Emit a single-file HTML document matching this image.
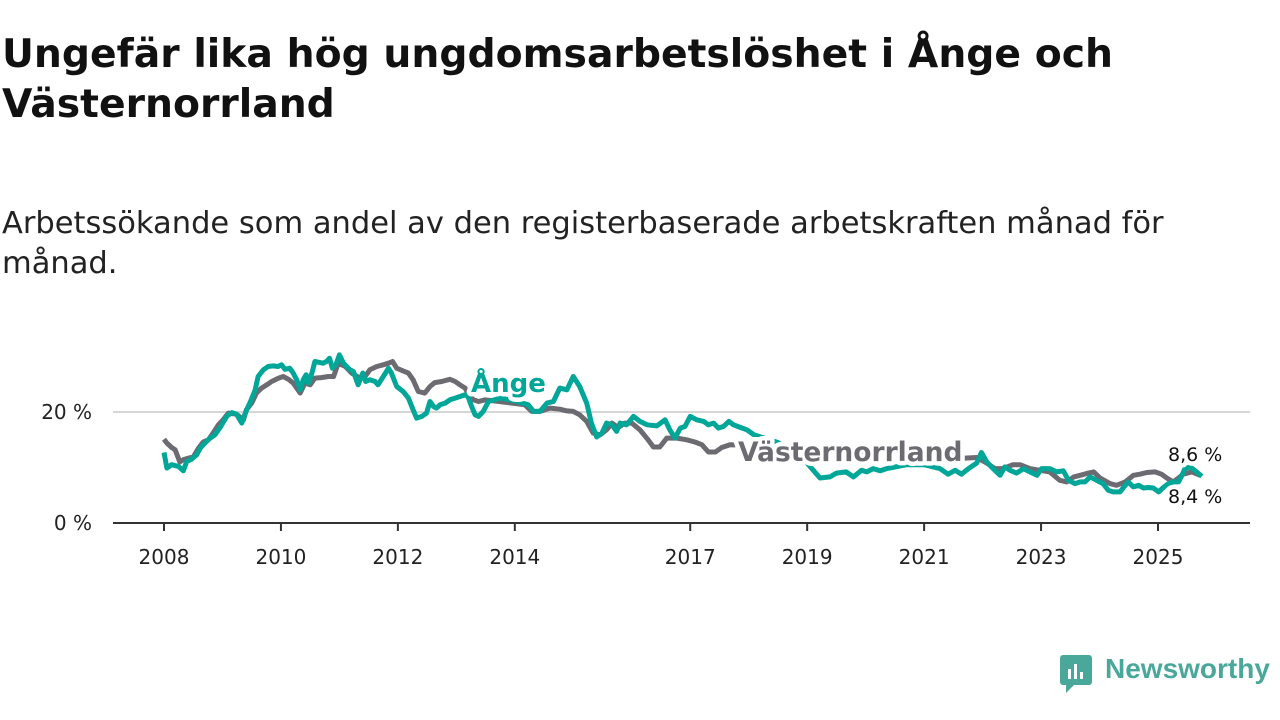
<!DOCTYPE html>
<html><head><meta charset="utf-8"><style>
body{margin:0;background:#fff;font-family:"DejaVu Sans","Liberation Sans",sans-serif;}
#wrap{position:relative;width:1280px;height:720px;overflow:hidden;}
h1{position:absolute;left:2px;top:30px;margin:0;font-size:39.3px;line-height:50px;font-weight:bold;color:#111;width:1200px;font-family:"DejaVu Sans","Liberation Sans",sans-serif;}
.sub{position:absolute;left:2px;top:204px;margin:0;font-size:30.5px;line-height:40px;color:#222;width:1220px;font-family:"DejaVu Sans","Liberation Sans",sans-serif;}
</style></head><body>
<div id="wrap">
<h1>Ungefär lika hög ungdomsarbetslöshet i Ånge och Västernorrland</h1>
<p class="sub">Arbetssökande som andel av den registerbaserade arbetskraften månad för månad.</p>
<svg id="chart" width="1280" height="720" style="position:absolute;left:0;top:0"></svg>
<div style="position:absolute;left:1060px;top:655px;">
<svg width="34" height="38"><rect x="0" y="0" width="32" height="30" rx="3" fill="#4aa89a"/><polygon points="6,30 14,30 6,38" fill="#4aa89a"/><rect x="8" y="14" width="3" height="10" fill="#fff"/><rect x="14" y="9" width="3" height="15" fill="#fff"/><rect x="20" y="17" width="3" height="7" fill="#fff"/></svg>
<span style="position:absolute;left:45px;top:-2px;font-size:28px;font-weight:bold;color:#4aa89a;font-family:'Liberation Sans',sans-serif;">Newsworthy</span>
</div>
</div>
<script>
const angeYears=[2008.0,2008.05,2008.13,2008.25,2008.33,2008.39,2008.47,2008.56,2008.62,2008.70,2008.79,2008.87,2008.96,2009.01,2009.08,2009.16,2009.24,2009.33,2009.39,2009.44,2009.48,2009.56,2009.61,2009.70,2009.78,2009.87,2009.95,2010.01,2010.07,2010.15,2010.21,2010.27,2010.33,2010.38,2010.43,2010.47,2010.53,2010.58,2010.67,2010.72,2010.78,2010.83,2010.88,2010.94,2011.00,2011.07,2011.18,2011.24,2011.32,2011.40,2011.45,2011.52,2011.61,2011.66,2011.75,2011.84,2011.89,2011.98,2012.09,2012.18,2012.26,2012.32,2012.41,2012.49,2012.55,2012.61,2012.66,2012.72,2012.81,2012.89,2012.98,2013.06,2013.15,2013.20,2013.26,2013.32,2013.38,2013.46,2013.55,2013.75,2014.0,2014.23,2014.32,2014.43,2014.55,2014.66,2014.77,2014.89,2015.00,2015.11,2015.23,2015.31,2015.40,2015.49,2015.57,2015.66,2015.74,2015.80,2015.91,2016.03,2016.14,2016.26,2016.43,2016.57,2016.65,2016.74,2016.83,2016.91,2017.00,2017.11,2017.23,2017.31,2017.40,2017.48,2017.57,2017.66,2017.74,2017.86,2017.97,2018.09,2018.5,2018.9,2019.22,2019.39,2019.50,2019.67,2019.79,2019.93,2020.02,2020.13,2020.25,2020.36,2020.7,2021.0,2021.27,2021.41,2021.53,2021.64,2021.76,2021.90,2021.98,2022.07,2022.18,2022.30,2022.38,2022.47,2022.58,2022.70,2022.81,2022.93,2023.01,2023.15,2023.27,2023.38,2023.47,2023.58,2023.67,2023.75,2023.84,2023.95,2024.06,2024.15,2024.23,2024.35,2024.44,2024.49,2024.58,2024.67,2024.75,2024.84,2024.92,2025.01,2025.09,2025.18,2025.26,2025.35,2025.41,2025.46,2025.55,2025.66,2025.75];
const angeValues=[12.7,9.9,10.5,10.2,9.4,11.1,11.5,12.3,13.5,14.4,15.3,15.9,17.2,18.1,19.3,19.9,19.6,18.0,19.8,21.0,21.9,24.0,26.4,27.6,28.2,28.3,28.2,28.5,27.7,27.9,27.0,25.8,24.0,25.8,26.7,25.2,27.0,29.1,28.9,28.8,29.1,29.7,27.9,28.5,30.3,28.8,27.6,27.3,24.9,27.0,25.5,25.8,25.5,24.9,26.4,27.9,27.0,24.6,23.7,22.5,20.4,18.9,19.2,19.8,21.9,21.0,20.7,21.3,21.6,22.2,22.5,22.8,23.1,22.8,21.0,19.5,19.2,20.1,21.9,22.5,22.0,21.3,20.1,20.1,21.6,21.9,24.3,24.0,26.4,24.6,21.6,18.0,15.5,16.2,18.0,17.7,16.5,18.0,17.7,19.2,18.3,17.7,17.5,18.6,16.8,15.3,17.1,17.4,19.2,18.6,18.3,17.7,18.0,17.1,17.4,18.3,17.7,17.2,16.8,15.9,14.5,12.0,8.1,8.3,9.0,9.2,8.3,9.5,9.2,9.8,9.4,9.8,10.5,10.5,9.8,8.8,9.5,8.8,9.8,10.8,12.7,11.0,9.8,8.6,10.1,9.5,9.0,9.8,9.2,8.6,9.8,9.8,9.2,9.4,7.7,7.1,7.4,7.4,8.3,7.7,7.1,5.9,5.6,5.6,6.8,7.4,6.5,6.8,6.3,6.4,6.3,5.6,6.4,7.1,7.4,7.4,8.6,9.8,10.1,9.2,8.4];
const vnYears=[2008.0,2008.05,2008.13,2008.19,2008.27,2008.33,2008.42,2008.50,2008.59,2008.67,2008.76,2008.84,2008.93,2009.01,2009.10,2009.24,2009.36,2009.41,2009.50,2009.58,2009.67,2009.76,2009.84,2009.96,2010.04,2010.13,2010.21,2010.27,2010.33,2010.41,2010.50,2010.58,2010.69,2010.81,2010.90,2010.98,2011.10,2011.21,2011.35,2011.44,2011.52,2011.64,2011.75,2011.84,2011.91,2011.98,2012.09,2012.18,2012.26,2012.35,2012.46,2012.55,2012.63,2012.75,2012.89,2012.98,2013.06,2013.15,2013.20,2013.29,2013.38,2013.49,2013.8,2014.17,2014.29,2014.43,2014.60,2014.77,2014.89,2015.00,2015.11,2015.23,2015.34,2015.46,2015.57,2015.66,2015.77,2015.88,2016.00,2016.14,2016.28,2016.37,2016.48,2016.60,2016.77,2016.94,2017.08,2017.20,2017.31,2017.43,2017.54,2017.68,2018.2,2018.7,2019.3,2020.0,2020.6,2021.2,2021.70,2021.90,2022.07,2022.21,2022.35,2022.52,2022.64,2022.81,2022.98,2023.15,2023.32,2023.44,2023.56,2023.67,2023.81,2023.90,2024.01,2024.18,2024.29,2024.44,2024.58,2024.69,2024.81,2024.95,2025.06,2025.15,2025.26,2025.35,2025.43,2025.58,2025.72];
const vnValues=[15.1,14.4,13.6,13.2,11.0,11.4,11.7,11.9,13.5,14.6,15.0,16.2,17.7,18.6,19.8,19.6,18.6,20.4,21.6,23.4,24.3,24.9,25.5,26.1,26.4,25.9,25.2,24.3,23.4,25.2,24.9,26.1,26.2,26.4,26.4,28.8,28.2,27.0,26.1,26.4,27.6,28.2,28.5,28.8,29.1,27.9,27.4,27.0,25.8,23.7,23.4,24.6,25.3,25.5,25.9,25.5,24.9,24.3,23.4,22.2,21.9,22.2,21.8,21.3,20.1,20.1,20.7,20.5,20.2,20.1,19.5,18.3,16.2,15.9,16.8,18.0,17.2,18.0,18.0,16.8,15.0,13.7,13.7,15.3,15.3,15.0,14.6,14.1,12.8,12.8,13.6,14.1,14.0,13.0,12.5,12.5,12.5,12.5,11.7,11.8,10.8,9.8,9.8,10.5,10.5,9.8,9.5,9.2,7.7,7.4,8.3,8.6,9.0,9.2,8.1,7.1,6.8,7.4,8.6,8.8,9.1,9.2,8.8,8.1,7.4,8.1,8.8,9.2,8.6];
const xTicks=[2008,2010,2012,2014,2017,2019,2021,2023,2025];
const yTicks=[0,20];
const yTickLabels=["0 %","20 %"];

const NS="http://www.w3.org/2000/svg";
const svg=document.getElementById('chart');
const x=y=>164+(y-2008)*58.47;
const yS=v=>523-v*5.55;
const FF='DejaVu Sans, Liberation Sans, sans-serif';
function mk(t,a){const e=document.createElementNS(NS,t);for(const k in a)e.setAttribute(k,a[k]);svg.appendChild(e);return e;}
yTicks.forEach((t,i)=>{
  if(t>0){const g=mk('line',{x1:113,x2:1250,y1:yS(t),y2:yS(t),stroke:'#d6d6d6','stroke-width':2});
  
  }
  const l=mk('text',{x:92,y:yS(t)+7,'text-anchor':'end','font-size':20,fill:'#222','font-family':FF});
  l.textContent=yTickLabels[i];
  
  
});
xTicks.forEach(t=>{
  const tk=mk('line',{x1:x(t),x2:x(t),y1:523,y2:531,stroke:'#333','stroke-width':2});
  
  
  const l=mk('text',{x:x(t),y:564,'text-anchor':'middle','font-size':20,fill:'#222','font-family':FF});
  l.textContent=t;
  
  
});
function path(xs,vs){return xs.map((yr,i)=>(i?'L':'M')+x(yr).toFixed(1)+','+yS(vs[i]).toFixed(1)).join(' ');}
const gl=mk('path',{d:path(vnYears,vnValues),fill:'none',stroke:'#6d6b72','stroke-width':5,'stroke-linejoin':'round'});


const tl=mk('path',{d:path(angeYears,angeValues),fill:'none',stroke:'#00a698','stroke-width':5,'stroke-linejoin':'round'});


const ax=mk('line',{x1:113,x2:1250,y1:523,y2:523,stroke:'#333','stroke-width':2});


function lab(txt,px,py,col,name,size,bold,anchor){
  const e=mk('text',{x:px,y:py,fill:col,'font-size':size,'font-weight':bold?'bold':'normal','text-anchor':anchor||'start',stroke:'#fff','stroke-width':9,'paint-order':'stroke','stroke-linejoin':'round','font-family':FF});
  e.textContent=txt;
  
  
}
lab('Ånge',471,392,'#00a698','ange-label',26,true);
lab('Västernorrland',738,461,'#6d6b72','vasternorrland-label',26.5,true);
lab('8,6 %',1168,461,'#111','vasternorrland-end-value',19,false);
lab('8,4 %',1168,503,'#111','ange-end-value',19,false);
</script>
</body></html>
